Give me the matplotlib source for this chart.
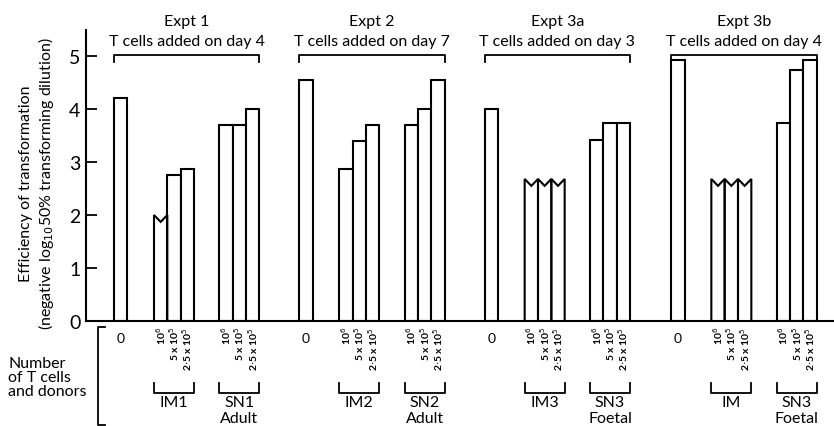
import matplotlib
matplotlib.use("Agg")
import matplotlib.pyplot as plt

plt.rcParams["font.family"] = ["Lato", "DejaVu Sans"]

# data
expts = ["Expt 1", "Expt 2", "Expt 3a", "Expt 3b"]
days = ["T cells added on day 4", "T cells added on day 7",
        "T cells added on day 3", "T cells added on day 4"]
control = [4.2, 4.55, 4.0, 4.92]
im_vals = [[2.0, 2.75, 2.87], [2.87, 3.4, 3.7],
           [2.68, 2.68, 2.68], [2.68, 2.68, 2.68]]
im_less = [[True, False, False], [False, False, False],
           [True, True, True], [True, True, True]]
sn_vals = [[3.7, 3.7, 4.0], [3.7, 4.0, 4.55],
           [3.42, 3.73, 3.73], [3.73, 4.73, 4.93]]
im_names = ["IM1", "IM2", "IM3", "IM"]
sn_names = ["SN1", "SN2", "SN3", "SN3"]
donors = ["Adult", "Adult", "Foetal", "Foetal"]
doses = ["10$^6$", "5 x 10$^5$", "2$\\cdot$5 x 10$^5$"]

# layout (bar units)
expt_start = [0, 13.9, 27.8, 41.8]
im_off = 3
sn_off = 7.9
lw = 1.5
dip = 0.13

fig = plt.figure(figsize=(8.34, 4.27), dpi=100)
ax = fig.add_axes([86 / 834, 1 - 322 / 427, 748 / 834, 291.5 / 427])


def draw_bar(x, v, less=False):
    if less:
        ax.bar(x, v, width=1, align="edge", facecolor="white", edgecolor="none")
        ax.plot([x, x, x + 0.5, x + 1, x + 1], [0, v, v - dip, v, 0],
                color="black", lw=lw, solid_joinstyle="miter")
    else:
        ax.bar(x, v, width=1, align="edge", facecolor="white",
               edgecolor="black", linewidth=lw)


def under_bracket(x0, x1, name, donor=None):
    ax.plot([x0, x0, x1, x1], [-1.17, -1.36, -1.36, -1.17], color="black",
            lw=1.3, clip_on=False)
    ax.text((x0 + x1) / 2, -1.52, name, ha="center", va="center",
            fontsize=11.5)
    if donor:
        ax.text((x0 + x1) / 2, -1.83, donor, ha="center", va="center",
                fontsize=11.5)


for i, s in enumerate(expt_start):
    draw_bar(s, control[i])
    ax.text(s + 0.5, -0.32, "0", ha="center", va="center", fontsize=10)
    for j in range(3):
        draw_bar(s + im_off + j, im_vals[i][j], im_less[i][j])
        draw_bar(s + sn_off + j, sn_vals[i][j])
        for off in (im_off, sn_off):
            ax.text(s + off + j + 0.5, -0.09, doses[j], rotation=90,
                    ha="center", va="top", fontsize=7.5, fontweight="bold")
    under_bracket(s + im_off, s + im_off + 3, im_names[i])
    under_bracket(s + sn_off, s + sn_off + 3, sn_names[i], donors[i])

    # bracket + title above each experiment
    x0, x1 = s, s + sn_off + 3
    ax.plot([x0, x0, x1, x1], [4.89, 5.02, 5.02, 4.89], color="black",
            lw=1.3, clip_on=False)
    xc = (x0 + x1) / 2
    ax.text(xc, 5.66, expts[i], ha="center", va="center", fontsize=11.5)
    ax.text(xc, 5.28, days[i], ha="center", va="center", fontsize=11.5)

# big bracket at left of the lower label block
ax.plot([-0.68, -1.2, -1.2, -0.68], [-0.11, -0.11, -1.96, -1.96],
        color="black", lw=1.3, clip_on=False)

ax.set_xlim(-2.1, 54.0)
ax.set_ylim(0, 5.5)
ax.set_xticks([])
ax.set_yticks([0, 1, 2, 3, 4, 5])
ax.set_yticklabels(["0", "1", "2", "3", "4", "5"])
ax.tick_params(axis="y", direction="in", length=8, width=1.3, labelsize=14,
               pad=4)
for side in ("top", "right"):
    ax.spines[side].set_visible(False)
ax.spines["left"].set_linewidth(lw)
ax.spines["bottom"].set_linewidth(lw)

fig.text(38 / 834, 1 - 184 / 427,
         "Efficiency of transformation\n"
         "(negative log$_{10}$50% transforming dilution)",
         rotation=90, ha="center", va="center", multialignment="center",
         fontsize=11.5, linespacing=1.2)
fig.text(8 / 834, 1 - 378 / 427, "Number\nof T cells\nand donors",
         ha="left", va="center", fontsize=11.5, linespacing=1.0)

fig.savefig("out.png", dpi=100)
